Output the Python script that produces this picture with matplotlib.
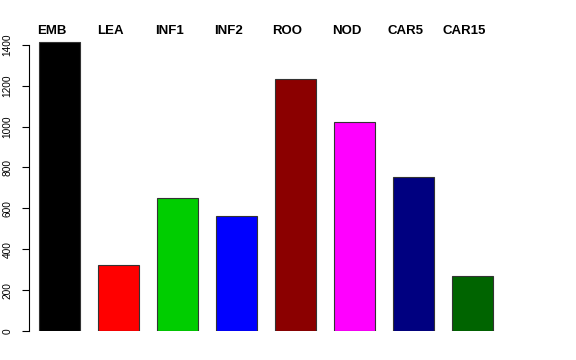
import matplotlib

matplotlib.use("Agg")
import matplotlib.pyplot as plt

plt.rcParams["font.family"] = ["Liberation Sans", "DejaVu Sans"]

categories = ["EMB", "LEA", "INF1", "INF2", "ROO", "NOD", "CAR5", "CAR15"]
values = [1413, 322, 650, 562, 1231, 1022, 753, 270]
colors = ["#000000", "#FF0000", "#00CD00", "#0000FF",
          "#8B0000", "#FF00FF", "#000080", "#006400"]
yticks = [0, 200, 400, 600, 800, 1000, 1200, 1400]

W, H = 576, 360
fig = plt.figure(figsize=(W / 100, H / 100), dpi=100)
# axes box in pixels: left spine at x=29, zero line at y=331 from top
ax = fig.add_axes([29 / W, 29 / H, (560 - 29) / W, (331 - 30) / H])

x = list(range(len(categories)))
ax.bar(x, values, width=41 / 59, color=colors, edgecolor="#333333", linewidth=0.8)

ax.set_xlim((29 - 59.5) / 59, (560 - 59.5) / 59)
ax.set_ylim(0, 301 / 0.2045)

for s in ["top", "right", "bottom"]:
    ax.spines[s].set_visible(False)
ax.spines["left"].set_bounds(0, 1400)
ax.spines["left"].set_linewidth(0.8)
ax.set_xticks([])
ax.set_yticks(yticks)
ax.set_yticklabels([str(t) for t in yticks], rotation=90, va="center", fontsize=7.3)
ax.tick_params(axis="y", length=5, width=0.8, pad=7)

# labels across the top, slightly left of each bar centre
for i, name in enumerate(categories):
    ax.text(i - 8 / 59, (331 - 34) / 301, name, transform=ax.get_xaxis_transform(),
            ha="center", va="baseline", fontsize=9.5, fontweight="bold")

fig.savefig("out.png", dpi=100)
